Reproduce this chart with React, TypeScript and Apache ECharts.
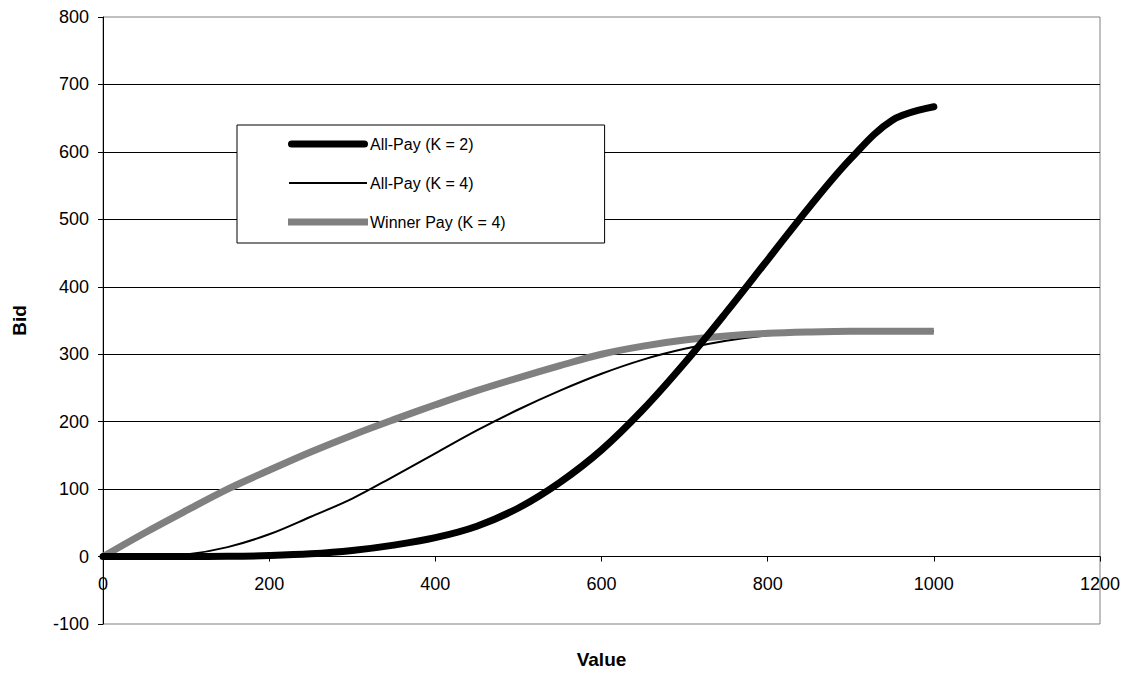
import React, { useEffect, useRef } from "react";
import * as echarts from "echarts";

const values = [0, 50, 100, 150, 200, 250, 300, 350, 400, 450, 500, 550, 600, 650, 700, 750, 800, 850, 900, 950, 1000];
const allPayK2 = [0, 0, 0, 0.3, 1.5, 4, 9, 17, 28, 45, 72, 110, 158, 218, 287, 362, 440, 518, 590, 647, 667];
const allPayK4 = [0, 0, 3, 14, 33, 59, 86, 119, 153, 187, 218, 246, 271, 292, 308, 320, 328, 332, 334, 334, 334];
const winnerPayK4 = [0, 35, 68, 100, 128, 155, 180, 203, 225, 246, 265, 283, 300, 312, 321, 327, 331, 333, 334, 334, 334];
const seriesNames = ["All-Pay (K = 2)", "All-Pay (K = 4)", "Winner Pay (K = 4)"];

const pairs = (ys: number[]) => values.map((v, i) => [v, ys[i]]);

const FONT = "'Liberation Sans', Arial, sans-serif";

const ICON_THICK = "path://M0,0L0,0M80,14L80,14M3.5,3.5L76.5,3.5A3.5,3.5,0,0,1,76.5,10.5L3.5,10.5A3.5,3.5,0,0,1,3.5,3.5Z";
const ICON_THIN = "path://M0,0L0,0M80,14L80,14M1,6L79,6L79,8L1,8Z";
const ICON_GRAY = "path://M0,0L0,0M80,14L80,14M0,3.5L80,3.5L80,10.5L0,10.5Z";

export default function App() {
  const ref = useRef<HTMLDivElement>(null);
  useEffect(() => {
    if (!ref.current) return;
    const chart = echarts.init(ref.current, undefined, { renderer: "svg" });
    const zeroOffset = -(607 * 100) / 900; // moves x axis up to the y = 0 line
    chart.setOption({
      animation: false,
      backgroundColor: "#fff",
      textStyle: { fontFamily: FONT },
      grid: {
        left: 103,
        top: 17,
        right: 34,
        bottom: 51,
        outerBoundsMode: "none",
        containLabel: false,
        show: true,
        borderColor: "#808080",
        borderWidth: 1,
        backgroundColor: "transparent",
      },
      legend: {
        left: 237,
        top: 125,
        orient: "vertical",
        itemWidth: 80,
        itemHeight: 14,
        itemGap: 23,
        padding: [11, 99, 13, 51],
        borderColor: "#000",
        borderWidth: 1,
        backgroundColor: "#fff",
        textStyle: { fontFamily: FONT, fontSize: 16, color: "#000", padding: [0, 0, 0, -3] },
        data: [
          { name: seriesNames[0], icon: ICON_THICK, itemStyle: { color: "#000", borderWidth: 0 } },
          { name: seriesNames[1], icon: ICON_THIN, itemStyle: { color: "#000", borderWidth: 0 } },
          { name: seriesNames[2], icon: ICON_GRAY, itemStyle: { color: "#808080", borderWidth: 0 } },
        ],
      },
      xAxis: {
        type: "value",
        min: 0,
        max: 1200,
        interval: 200,
        offset: zeroOffset,
        name: "Value",
        nameLocation: "middle",
        nameGap: 93,
        nameTextStyle: { fontFamily: FONT, fontSize: 19, fontWeight: "bold", color: "#000" },
        axisLine: { show: true, onZero: false, lineStyle: { color: "#000", width: 1 } },
        axisTick: { show: true, inside: false, length: 5, lineStyle: { color: "#000" } },
        axisLabel: {
          fontFamily: FONT,
          fontSize: 18,
          color: "#000",
          margin: 18,
          formatter: (v: number) => String(v),
        },
        splitLine: { show: false },
      },
      yAxis: {
        type: "value",
        min: -100,
        max: 800,
        interval: 100,
        name: "Bid",
        nameLocation: "middle",
        nameGap: 74,
        nameTextStyle: { fontFamily: FONT, fontSize: 19, fontWeight: "bold", color: "#000" },
        axisLine: { show: true, onZero: false, lineStyle: { color: "#000", width: 1 } },
        axisTick: { show: true, inside: false, length: 5, lineStyle: { color: "#000" } },
        axisLabel: { fontFamily: FONT, fontSize: 18, color: "#000", margin: 14 },
        splitLine: { show: true, showMinLine: false, showMaxLine: false, lineStyle: { color: "#000", width: 1 } },
      },
      series: [
        {
          name: seriesNames[0],
          type: "line",
          data: pairs(allPayK2),
          smooth: 0.35,
          symbol: "none",
          z: 4,
          lineStyle: { color: "#000", width: 7, cap: "round", join: "round" },
          itemStyle: { color: "#000" },
        },
        {
          name: seriesNames[1],
          type: "line",
          data: pairs(allPayK4),
          smooth: 0.35,
          symbol: "none",
          z: 2,
          lineStyle: { color: "#000", width: 2 },
          itemStyle: { color: "#000" },
        },
        {
          name: seriesNames[2],
          type: "line",
          data: pairs(winnerPayK4),
          smooth: 0.35,
          symbol: "none",
          z: 3,
          lineStyle: { color: "#808080", width: 7, cap: "butt" },
          itemStyle: { color: "#808080" },
        },
      ],
    });
    return () => chart.dispose();
  }, []);
  return <div ref={ref} style={{ width: 1134, height: 675, position: "absolute", left: 0, top: 0 }} />;
}
